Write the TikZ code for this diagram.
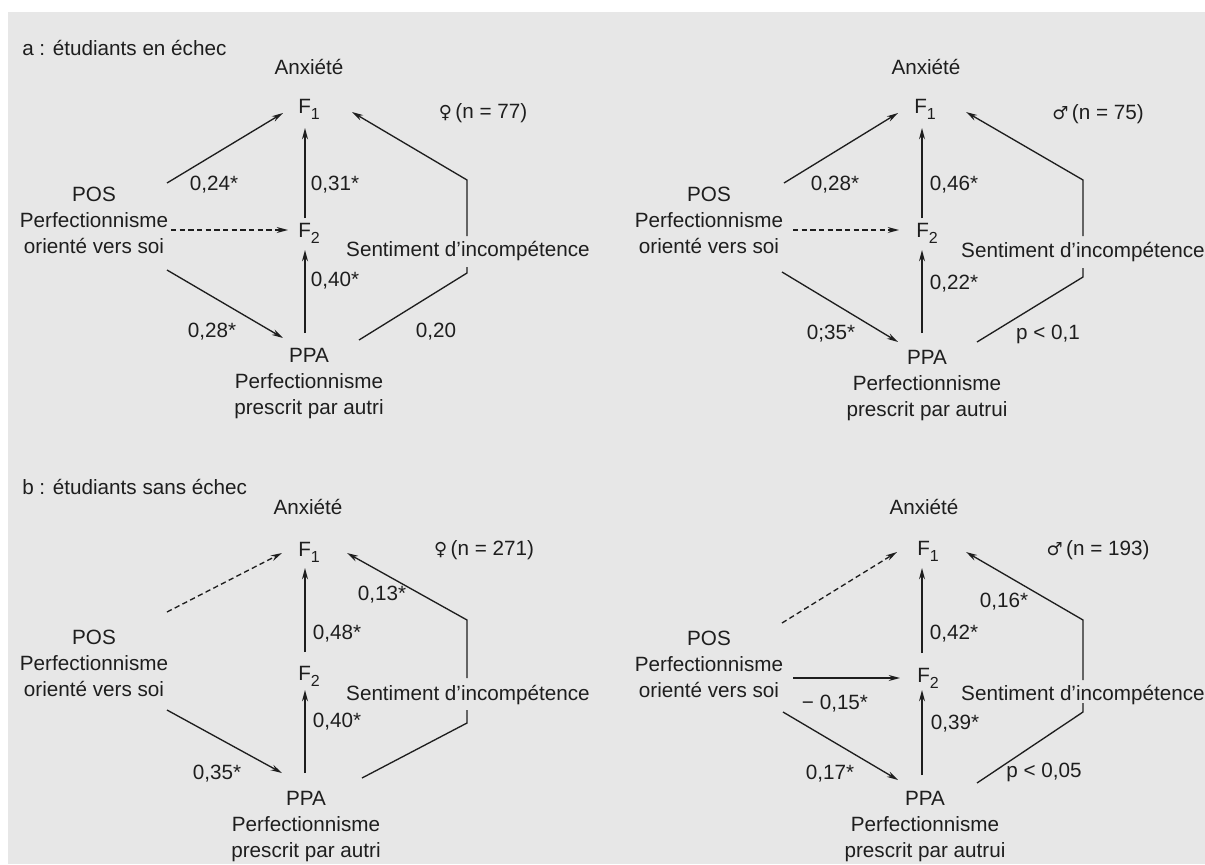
\documentclass[tikz,border=0pt]{standalone}
\usepackage{fontspec}
\setmainfont{Liberation Sans}
\newfontfamily\symf{DejaVu Sans}
\usetikzlibrary{arrows.meta,calc}
\definecolor{ink}{HTML}{1E1E1E}
\definecolor{paper}{HTML}{E7E7E7}
\tikzset{
  lbl/.style={font=\fontsize{15.5}{19}\selectfont, text=ink, inner sep=0pt},
  blk/.style={font=\fontsize{15.5}{19.5}\selectfont, text=ink, inner sep=0pt, align=center},
  arr/.style={draw=ink, line width=1pt, -{Stealth[length=8.5pt,width=4.5pt]}},
  ln/.style={draw=ink, line width=1pt},
  dsh/.style={arr, dash pattern=on 4pt off 2.5pt},
}
\newcommand{\Fs}[1]{F\raisebox{-4.5pt}{\fontsize{12}{12}\selectfont #1}}
\newcommand{\fem}{{\symf\fontsize{13.5}{13}\selectfont ♀}\,}
\newcommand{\mal}{{\symf\fontsize{13.5}{13}\selectfont ♂}\,}
\begin{document}
\begin{tikzpicture}[x=0.75pt,y=-0.75pt]
\useasboundingbox (0,0) rectangle (1205,864);
\fill[white] (0,0) rectangle (1205,864);
\fill[paper] (8,12) rectangle (1205,864);

% ---------------- panel a ----------------
\begin{scope}
\node[lbl,anchor=base west] (ta) at (22,55) {a : étudiants en échec};
\node[lbl,anchor=base] (anxa) at (309,74) {Anxiété};
\node[lbl,anchor=base west] (f1a) at (298,113) {\Fs{1}};
\node[lbl,anchor=base] (na) at (483,118) {\fem(n = 77)};
\node[blk] (posa) at (94,220) {POS\\Perfectionnisme\\orienté vers soi};
\node[lbl,anchor=base west] (f2a) at (298,237) {\Fs{2}};
\node[lbl,anchor=base] (senta) at (468,256) {Sentiment d’incompétence};
\node[blk] (ppaa) at (309,384) {PPA\\Perfectionnisme\\prescrit par autri};
\draw[arr] ($(posa)+(73,-37)$) -- ($(f1a.base west)+(-15,0)$);
\draw[arr] ($(f2a.base west)+(7,-19)$) -- ($(f1a.base west)+(7,15)$);
\draw[dsh] ($(posa)+(77,10)$) -- ($(f2a.base west)+(-10,-7)$);
\draw[arr] ($(ppaa)+(-4,-51)$) -- ($(f2a.base west)+(7,13)$);
\draw[arr] ($(posa)+(73,50)$) -- ($(ppaa)+(-26,-46)$);
\draw[arr] ($(senta.base)+(-1,-20)$) -- ++(0,-56) -- ($(f1a.base west)+(54,-1)$);
\draw[ln] ($(ppaa)+(50,-44)$) -- ($(senta.base)+(-1,17)$) -- ++(0,-6);
\node[lbl,anchor=base] (la1) at (214,190) {0,24*};
\node[lbl,anchor=base] (la2) at (335,190) {0,31*};
\node[lbl,anchor=base] (la3) at (335,286) {0,40*};
\node[lbl,anchor=base] (la4) at (212,337) {0,28*};
\node[lbl,anchor=base] (la5) at (436,337) {0,20};
\end{scope}

% ---------------- panel b ----------------
\begin{scope}[shift={(616,0)}]
\node[lbl,anchor=base] (anxb) at (310,74) {Anxiété};
\node[lbl,anchor=base west] (f1b) at (298,113) {\Fs{1}};
\node[lbl,anchor=base] (nb) at (482,119) {\mal(n = 75)};
\node[blk] (posb) at (93,220) {POS\\Perfectionnisme\\orienté vers soi};
\node[lbl,anchor=base west] (f2b) at (300,237) {\Fs{2}};
\node[lbl,anchor=base] (sentb) at (467,257) {Sentiment d’incompétence};
\node[blk] (ppab) at (311,386) {PPA\\Perfectionnisme\\prescrit par autrui};
\draw[arr] ($(posb)+(75,-37)$) -- ($(f1b.base west)+(-16,0)$);
\draw[arr] ($(f2b.base west)+(6,-19)$) -- ($(f1b.base west)+(8,15)$);
\draw[dsh] ($(posb)+(84,10)$) -- ($(f2b.base west)+(-17,-7)$);
\draw[arr] ($(ppab)+(-5,-53)$) -- ($(f2b.base west)+(6,13)$);
\draw[arr] ($(posb)+(73,52)$) -- ($(ppab)+(-29,-44)$);
\draw[arr] ($(sentb.base)+(0,-21)$) -- ++(0,-56) -- ($(f1b.base west)+(52,-1)$);
\draw[ln] ($(ppab)+(50,-44)$) -- ($(sentb.base)+(0,20)$) -- ++(0,-9);
\node[lbl,anchor=base] (lb1) at (219,190) {0,28*};
\node[lbl,anchor=base] (lb2) at (338,190) {0,46*};
\node[lbl,anchor=base] (lb3) at (338,289) {0,22*};
\node[lbl,anchor=base] (lb4) at (215,339) {0;35*};
\node[lbl,anchor=base] (lb5) at (432,339) {p < 0,1};
\end{scope}

% ---------------- panel c ----------------
\begin{scope}[shift={(0,443)}]
\node[lbl,anchor=base west] (tc) at (22,51) {b : étudiants sans échec};
\node[lbl,anchor=base] (anxc) at (308,71) {Anxiété};
\node[lbl,anchor=base west] (f1c) at (298,113) {\Fs{1}};
\node[lbl,anchor=base] (nc) at (484,112) {\fem(n = 271)};
\node[blk] (posc) at (94,220) {POS\\Perfectionnisme\\orienté vers soi};
\node[lbl,anchor=base west] (f2c) at (298,237) {\Fs{2}};
\node[lbl,anchor=base] (sentc) at (468,257) {Sentiment d’incompétence};
\node[blk] (ppac) at (306,384) {PPA\\Perfectionnisme\\prescrit par autri};
\draw[dsh] ($(posc)+(73,-51)$) -- ($(f1c.base west)+(-16,-3)$);
\draw[arr] ($(f2c.base west)+(7,-28)$) -- ($(f1c.base west)+(7,12)$);
\draw[arr] ($(ppac)+(-1,-54)$) -- ($(f2c.base west)+(7,10)$);
\draw[arr] ($(posc)+(73,47)$) -- ($(ppac)+(-24,-54)$);
\draw[arr] ($(sentc.base)+(-1,-22)$) -- ++(0,-58) -- ($(f1c.base west)+(49,-3)$);
\draw[ln] ($(ppac)+(56,-49)$) -- ($(sentc.base)+(-1,23)$) -- ++(0,-13);
\node[lbl,anchor=base] (lc1) at (382,157) {0,13*};
\node[lbl,anchor=base] (lc2) at (337,196) {0,48*};
\node[lbl,anchor=base] (lc3) at (337,284) {0,40*};
\node[lbl,anchor=base] (lc4) at (217,336) {0,35*};
\end{scope}

% ---------------- panel d ----------------
\begin{scope}[shift={(616,443)}]
\node[lbl,anchor=base] (anxd) at (308,71) {Anxiété};
\node[lbl,anchor=base west] (f1d) at (301,112) {\Fs{1}};
\node[lbl,anchor=base] (nd) at (482,112) {\mal(n = 193)};
\node[blk] (posd) at (93,221) {POS\\Perfectionnisme\\orienté vers soi};
\node[lbl,anchor=base west] (f2d) at (301,239) {\Fs{2}};
\node[lbl,anchor=base] (sentd) at (467,257) {Sentiment d’incompétence};
\node[blk] (ppad) at (309,384) {PPA\\Perfectionnisme\\prescrit par autrui};
\draw[dsh] ($(posd)+(73,-41)$) -- ($(f1d.base west)+(-20,-3)$);
\draw[arr] ($(f2d.base west)+(5,-29)$) -- ($(f1d.base west)+(5,13)$);
\draw[arr] ($(posd)+(84,14)$) -- ($(f2d.base west)+(-17,-4)$);
\draw[arr] ($(ppad)+(-3,-52)$) -- ($(f2d.base west)+(5,8)$);
\draw[arr] ($(posd)+(74,48)$) -- ($(ppad)+(-27,-47)$);
\draw[arr] ($(sentd.base)+(0,-20)$) -- ++(0,-60) -- ($(f1d.base west)+(49,-3)$);
\draw[ln] ($(ppad)+(52,-44)$) -- ($(sentd.base)+(0,12)$) -- ++(0,-9);
\node[lbl,anchor=base] (ld1) at (388,164) {0,16*};
\node[lbl,anchor=base] (ld2) at (338,196) {0,42*};
\node[lbl,anchor=base] (ld3) at (219,266) {− 0,15*};
\node[lbl,anchor=base] (ld4) at (339,286) {0,39*};
\node[lbl,anchor=base] (ld5) at (214,336) {0,17*};
\node[lbl,anchor=base] (ld6) at (428,334) {p < 0,05};
\end{scope}
\end{tikzpicture}
\end{document}
